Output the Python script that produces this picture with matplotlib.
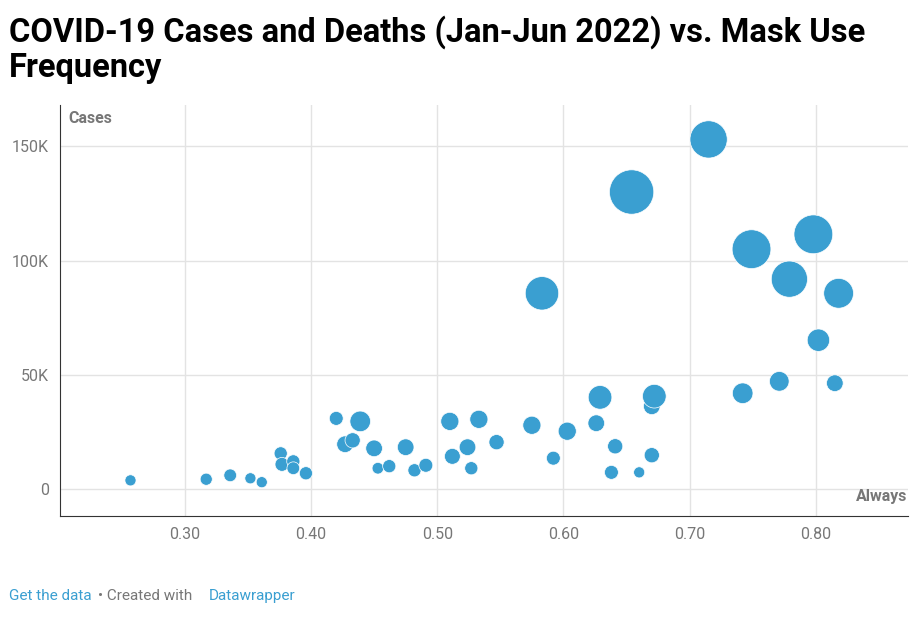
import matplotlib.pyplot as plt
import numpy as np

# Frecuencia de uso de mascarilla ("Always"), casos y muertes
mask_always = [0.257, 0.317, 0.336, 0.352, 0.361, 0.376, 0.377, 0.386, 0.386, 0.396,
               0.420, 0.427, 0.433, 0.439, 0.450, 0.453, 0.462, 0.475, 0.482, 0.491,
               0.510, 0.512, 0.524, 0.527, 0.533, 0.547, 0.575, 0.583, 0.592, 0.603,
               0.626, 0.629, 0.638, 0.641, 0.654, 0.660, 0.670, 0.670, 0.672, 0.715,
               0.742, 0.749, 0.771, 0.779, 0.798, 0.802, 0.815, 0.818]
cases = [3900, 4400, 6100, 4800, 3100, 15700, 10900, 12200, 9200, 7000,
         31000, 19700, 21400, 29700, 17900, 9200, 10100, 18400, 8300, 10500,
         29700, 14400, 18400, 9200, 30600, 20600, 28000, 85700, 13600, 25400,
         28900, 40200, 7400, 18800, 130000, 7400, 36300, 14900, 40700, 153000,
         42000, 105000, 47200, 91900, 111500, 65200, 46400, 85700]
deaths = [320, 380, 420, 320, 320, 450, 500, 450, 420, 450,
          500, 720, 600, 1100, 720, 350, 450, 720, 450, 500,
          850, 650, 720, 450, 850, 600, 850, 2900, 500, 850,
          720, 1450, 500, 600, 5100, 320, 720, 600, 1450, 3600,
          1100, 3900, 1000, 3400, 3900, 1300, 720, 2300]

azul = '#3a9fd1'
gris = '#777777'

fig = plt.figure(figsize=(9.2, 6.22), dpi=100)
ax = fig.add_axes([0.065, 0.170, 0.922, 0.661])

ax.scatter(mask_always, cases, s=np.array(deaths) * 0.2, color=azul, edgecolors='white',
           linewidths=0.5, zorder=3)

ax.set_xlim(0.201, 0.873)
ax.set_ylim(-11800, 168000)
ax.set_xticks([0.3, 0.4, 0.5, 0.6, 0.7, 0.8])
ax.set_xticklabels(['0.30', '0.40', '0.50', '0.60', '0.70', '0.80'])
ax.set_yticks([0, 50000, 100000, 150000])
ax.set_yticklabels(['0', '50K', '100K', '150K'])
ax.tick_params(length=0, labelsize=11.5, labelcolor=gris, pad=8)
for lab in ax.get_xticklabels() + ax.get_yticklabels():
    lab.set_fontfamily('Roboto')
ax.grid(True, color='#e3e3e3', linewidth=1, zorder=0)
for s in ['top', 'right']:
    ax.spines[s].set_visible(False)
ax.spines['left'].set_color('#333333')
ax.spines['bottom'].set_color('#333333')

ax.text(0.01, 0.985, 'Cases', transform=ax.transAxes, ha='left', va='top',
        fontsize=11.5, fontweight='bold', color=gris, family='Roboto')
ax.text(0.999, 0.03, 'Always', transform=ax.transAxes, ha='right', va='bottom',
        fontsize=11.5, fontweight='bold', color=gris, family='Roboto')

fig.text(0.01, 0.975, 'COVID-19 Cases and Deaths (Jan-Jun 2022) vs. Mask Use\nFrequency',
         ha='left', va='top', fontsize=23.5, fontweight='bold', family='Roboto',
         linespacing=1.1)

fig.text(0.01, 0.035, 'Get the data', color=azul, fontsize=11, family='Roboto')
fig.text(0.107, 0.035, '• Created with', color=gris, fontsize=11, family='Roboto')
fig.text(0.227, 0.035, 'Datawrapper', color=azul, fontsize=11, family='Roboto')

fig.savefig('out.png', dpi=100)
